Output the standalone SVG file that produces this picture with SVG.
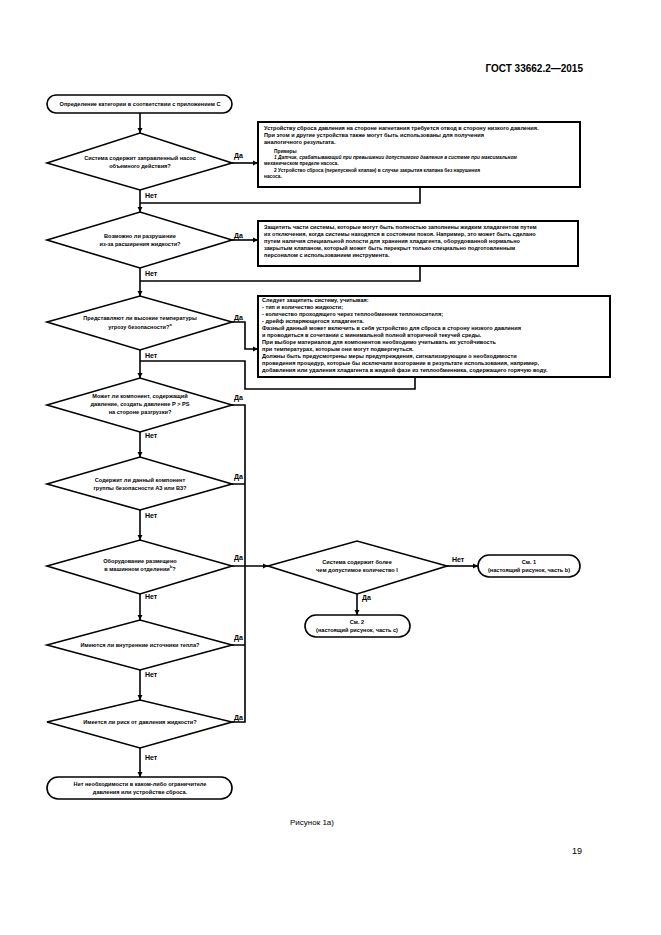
<svg xmlns="http://www.w3.org/2000/svg" width="661" height="935" viewBox="0 0 661 935">
<style>
.s{fill:none;stroke:#000;stroke-width:1.6}
.b{fill:#fff;stroke:#000;stroke-width:1.6}
.bx{fill:#fff;stroke:#000;stroke-width:2}
.t{font-family:"Liberation Sans",Arial,sans-serif;font-size:5.6px;font-weight:bold;fill:#000}
.c{text-anchor:middle}
.l{font-family:"Liberation Sans",Arial,sans-serif;font-size:7px;font-weight:bold;fill:#000}
</style>
<defs><marker id="a" markerWidth="6" markerHeight="6" refX="5" refY="3" orient="auto" markerUnits="userSpaceOnUse"><path d="M0,0.5 L5,3 L0,5.5z" fill="#000"/></marker></defs>
<rect width="661" height="935" fill="#fff"/>
<text x="583" y="72" text-anchor="end" style="font-family:'Liberation Sans',Arial,sans-serif;font-size:10px;font-weight:bold">ГОСТ 33662.2—2015</text>
<g id="connectors">
<path class="s" d="M140,113V133" marker-end="url(#a)"/>
<path class="s" d="M232,163H258" marker-end="url(#a)"/>
<path class="s" d="M140,190V212" marker-end="url(#a)"/>
<path class="s" d="M420,187V203H140"/>
<path class="s" d="M232,240H258" marker-end="url(#a)"/>
<path class="s" d="M140,268V296" marker-end="url(#a)"/>
<path class="s" d="M420,266V281H140"/>
<path class="s" d="M232,322H245V349H258" marker-end="url(#a)"/>
<path class="s" d="M140,350V378" marker-end="url(#a)"/>
<path class="s" d="M140,361H245V389H415V377"/>
<path class="s" d="M140,432V457" marker-end="url(#a)"/>
<path class="s" d="M140,510V540" marker-end="url(#a)"/>
<path class="s" d="M140,594V620" marker-end="url(#a)"/>
<path class="s" d="M140,670V700" marker-end="url(#a)"/>
<path class="s" d="M140,748V777" marker-end="url(#a)"/>
<path class="s" d="M232,405H245V722H232"/>
<path class="s" d="M232,484H245M232,645H245"/>
<path class="s" d="M232,566H268" marker-end="url(#a)"/>
<path class="s" d="M447,566H478" marker-end="url(#a)"/>
<path class="s" d="M357,594V615" marker-end="url(#a)"/>
</g>
<g class="l">
<text x="234" y="158">Да</text><text x="145" y="198">Нет</text>
<text x="234" y="238">Да</text><text x="145" y="276">Нет</text>
<text x="234" y="320">Да</text><text x="145" y="358">Нет</text>
<text x="234" y="400">Да</text><text x="145" y="438">Нет</text>
<text x="234" y="479">Да</text><text x="145" y="518">Нет</text>
<text x="234" y="560">Да</text><text x="145" y="599">Нет</text>
<text x="234" y="640">Да</text><text x="145" y="677">Нет</text>
<text x="234" y="720">Да</text><text x="145" y="760">Нет</text>
<text x="452" y="562">Нет</text><text x="362" y="600">Да</text>
</g>
<g id="start"><rect class="b" x="47" y="95" width="185" height="18" rx="9"/><text class="t c" x="140" y="106">Определение категории в соответствии с приложением С</text></g>
<g id="d1"><path class="b" d="M47,163L140,133L232,163L140,190z"/><text class="t c" x="140" y="160">Система содержит заправленный насос</text><text class="t c" x="140" y="168">объемного действия?</text></g>
<g id="n1"><rect class="bx" x="258" y="122" width="322" height="65"/>
<text class="t" x="264" y="130">Устройству сброса давления на стороне нагнетания требуется отвод в сторону низкого давления.</text>
<text class="t" x="264" y="137">При этом и другие устройства также могут быть использованы для получения</text>
<text class="t" x="264" y="144">аналогичного результата.</text>
<text class="t" x="274" y="153" style="font-size:4.8px">Примеры</text>
<text class="t" x="274" y="159" style="font-size:4.8px;font-style:italic">1 Датчик, срабатывающий при превышении допустимого давления в системе при максимальном</text>
<text class="t" x="264" y="165" style="font-size:4.8px">механическом пределе насоса.</text>
<text class="t" x="274" y="172" style="font-size:4.8px">2 Устройство сброса (перепускной клапан) в случае закрытия клапана без нарушения</text>
<text class="t" x="264" y="178" style="font-size:4.8px">насоса.</text></g>
<g id="d2"><path class="b" d="M47,240L140,212L232,240L140,268z"/><text class="t c" x="140" y="238">Возможно ли разрушение</text><text class="t c" x="140" y="246">из-за расширения жидкости?</text></g>
<g id="n2"><rect class="bx" x="258" y="221" width="320" height="45"/>
<text class="t" x="264" y="229">Защитить части системы, которые могут быть полностью заполнены жидким хладагентом путем</text>
<text class="t" x="264" y="236">их отключения, когда системы находятся в состоянии покоя. Например, это может быть сделано</text>
<text class="t" x="264" y="243">путем наличия специальной полости для хранения хладагента, оборудованной нормально</text>
<text class="t" x="264" y="250">закрытым клапаном, который может быть перекрыт только специально подготовленным</text>
<text class="t" x="264" y="257">персоналом с использованием инструмента.</text></g>
<g id="d3"><path class="b" d="M47,322L140,296L232,322L140,350z"/><text class="t c" x="140" y="320">Представляют ли высокие температуры</text><text class="t c" x="140" y="329">угрозу безопасности?<tspan dy="-3" style="font-size:4px">a</tspan></text></g>
<g id="n3"><rect class="bx" x="258" y="296" width="352" height="81"/>
<text class="t" x="262" y="302">Следует защитить систему, учитывая:</text>
<text class="t" x="262" y="309">- тип и количество жидкости;</text>
<text class="t" x="262" y="316">- количество проходящего через теплообменник теплоносителя;</text>
<text class="t" x="262" y="323">- дрейф испаряющегося хладагента.</text>
<text class="t" x="262" y="330">Фазный данный может включить в себя устройство для сброса в сторону низкого давления</text>
<text class="t" x="262" y="337">и проводиться в сочетании с минимальной полной вторичной текучей среды.</text>
<text class="t" x="262" y="344">При выборе материалов для компонентов необходимо учитывать их устойчивость</text>
<text class="t" x="262" y="351">при температурах, которым они могут подвергнуться.</text>
<text class="t" x="262" y="358">Должны быть предусмотрены меры предупреждения, сигнализирующие о необходимости</text>
<text class="t" x="262" y="365">проведения процедур, которые бы исключали возгорание в результате использования, например,</text>
<text class="t" x="262" y="372">добавления или удаления хладагента в жидкой фазе из теплообменника, содержащего горячую воду.</text></g>
<g id="d4"><path class="b" d="M47,405L140,378L232,405L140,432z"/><text class="t c" x="140" y="398">Может ли компонент, содержащий</text><text class="t c" x="140" y="406">давление, создать давление P &gt; PS</text><text class="t c" x="140" y="414">на стороне разгрузки?</text></g>
<g id="d5"><path class="b" d="M47,484L140,457L232,484L140,510z"/><text class="t c" x="140" y="482">Содержит ли данный компонент</text><text class="t c" x="140" y="490">группы безопасности A3 или B3?</text></g>
<g id="d6"><path class="b" d="M47,566L140,540L232,566L140,594z"/><text class="t c" x="140" y="563">Оборудование размещено</text><text class="t c" x="140" y="571">в машинном отделении<tspan dy="-3" style="font-size:4px">b</tspan><tspan dy="3">?</tspan></text></g>
<g id="d7"><path class="b" d="M47,645L140,620L232,645L140,670z"/><text class="t c" x="140" y="647">Имеются ли внутренние источники тепла?</text></g>
<g id="d8"><path class="b" d="M47,722L140,700L232,722L140,748z"/><text class="t c" x="140" y="724">Имеется ли риск от давления жидкости?</text></g>
<g id="end"><rect class="b" x="47" y="777" width="185" height="22" rx="11"/><text class="t c" x="140" y="786">Нет необходимости в каком-либо ограничителе</text><text class="t c" x="140" y="794">давления или устройстве сброса.</text></g>
<g id="d9"><path class="b" d="M268,566L357,541L447,566L357,594z"/><text class="t c" x="357" y="564">Система содержит более</text><text class="t c" x="357" y="572">чем допустимое количество I</text></g>
<g id="t1"><rect class="b" x="478" y="555" width="102" height="22" rx="11"/><text class="t c" x="529" y="564">См. 1</text><text class="t c" x="529" y="572">(настоящий рисунок, часть b)</text></g>
<g id="t2"><rect class="b" x="305" y="615" width="105" height="22" rx="11"/><text class="t c" x="357" y="624">См. 2</text><text class="t c" x="357" y="632">(настоящий рисунок, часть с)</text></g>
<text x="290" y="825" style="font-family:'Liberation Sans',Arial,sans-serif;font-size:8px">Рисунок 1а)</text>
<text x="572" y="854" style="font-family:'Liberation Sans',Arial,sans-serif;font-size:9px">19</text>
</svg>
